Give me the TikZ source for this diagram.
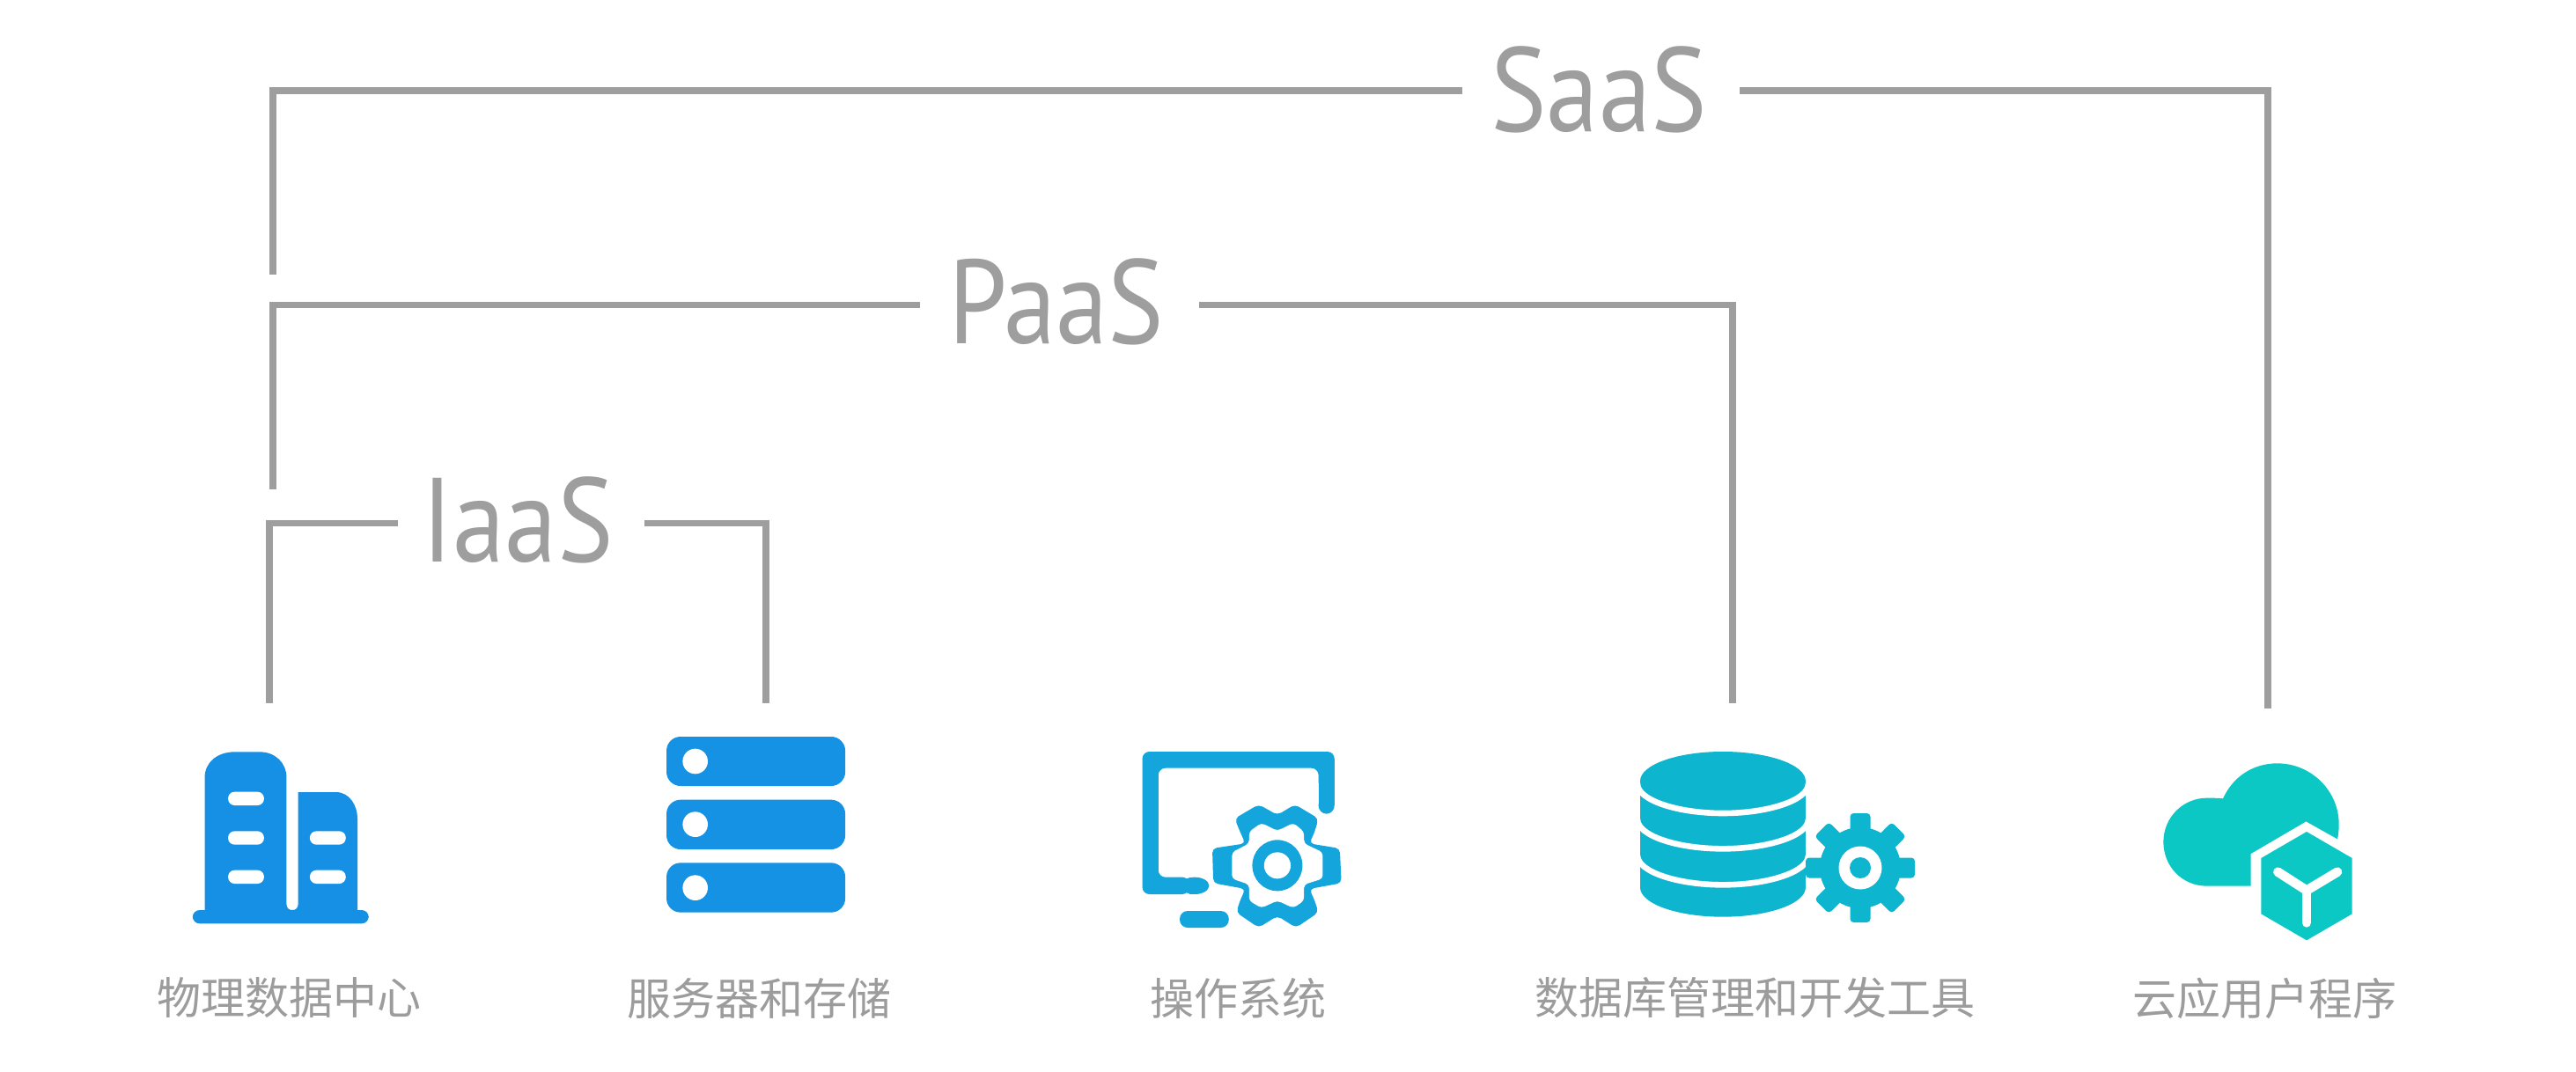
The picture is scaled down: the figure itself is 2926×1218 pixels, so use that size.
\documentclass[tikz,border=0pt]{standalone}
\usepackage{fontspec}
\newfontfamily\cjk{Noto Sans CJK SC}
\newfontfamily\lab[FakeStretch=0.88]{PT Sans}
\definecolor{linegray}{HTML}{9E9E9E}
\definecolor{textgray}{HTML}{9C9C9C}
\definecolor{bluea}{HTML}{1590E5}
\definecolor{blueb}{HTML}{1592E3}
\definecolor{bluec}{HTML}{14A5DC}
\definecolor{blued}{HTML}{0DB5CF}
\definecolor{bluee}{HTML}{0BC8C4}
\tikzset{
  bracket/.style={draw=linegray,line width=3.75pt,miter limit=10},
  bigtext/.style={inner sep=0pt,text=linegray,font=\lab\fontsize{68}{80}\selectfont},
  captext/.style={inner sep=0pt,text=textgray,font=\cjk\fontsize{25}{30}\selectfont},
  cropa/.style={shift={(180,820)},x=.2551pt,y=-.16667pt},
  cropb/.style={shift={(1260,830)},x=.30303pt,y=-.16667pt},
  cropc/.style={shift={(2400,780)},x=.16667pt,y=-.16667pt},
  pill/.style={fill=white,rounded corners=3.7pt},
}
\begin{document}
\begin{tikzpicture}[x=.5pt,y=-.5pt]
\useasboundingbox (0,0) rectangle (2926,1218);
\fill[white] (0,0) rectangle (2926,1218);
% labels
\node[bigtext,anchor=base] (saas) at (1816,150) {SaaS};
\node[bigtext,anchor=base] (paas) at (1200,391) {PaaS};
\node[bigtext,anchor=base] (iaas) at (588,639) {IaaS};
\node[captext] (l1) at (328,1134) {物理数据中心};
\node[captext] (l2) at (862,1134) {服务器和存储};
\node[captext] (l3) at (1406,1134) {操作系统};
\node[captext] (l4) at (1993,1134) {数据库管理和开发工具};
\node[captext] (l5) at (2572,1134) {云应用户程序};
% connector ends
\coordinate (saasA) at (1661,103);
\coordinate (saasB) at (310,312);
\coordinate (saasC) at (1976,103);
\coordinate (saasD) at (2576,805);
\coordinate (paasA) at (1045,346.5);
\coordinate (paasB) at (310,556);
\coordinate (paasC) at (1362,346.5);
\coordinate (paasD) at (1968,799);
\coordinate (iaasA) at (452,594.5);
\coordinate (iaasB) at (306,799);
\coordinate (iaasC) at (732,594.5);
\coordinate (iaasD) at (870,799);
\draw[bracket] (saasA) -| (saasB);
\draw[bracket] (saasC) -| (saasD);
\draw[bracket] (paasA) -| (paasB);
\draw[bracket] (paasC) -| (paasD);
\draw[bracket] (iaasA) -| (iaasB);
\draw[bracket] (iaasC) -| (iaasD);
% building
\begin{scope}[cropa]
\fill[bluea,rounded corners=4pt] (76,642) rectangle (468,688);
\fill[bluea] (103,660) -- (103,190) .. controls (103,140) and (130,103) .. (170,103)
  -- (225,103) .. controls (260,103) and (285,140) .. (285,190) -- (285,620)
  .. controls (285,635) and (290,642) .. (298,642) .. controls (306,642) and (311,635) .. (311,620)
  -- (311,240) -- (395,240) .. controls (425,240) and (443,285) .. (443,330) -- (443,660) -- cycle;
\fill[pill] (155,239) rectangle (235,285);
\fill[pill] (155,373) rectangle (235,419);
\fill[pill] (155,506) rectangle (235,552);
\fill[pill] (337,373) rectangle (417,419);
\fill[pill] (337,506) rectangle (417,552);
% server
\foreach \t/\b in {51/219,266/435,481/650}{
  \fill[blueb,rounded corners=8pt] (1131,\t) rectangle (1529,\b);
}
\fill[white] (1195,135) circle[x radius=28,y radius=43];
\fill[white] (1195,350) circle[x radius=28,y radius=43];
\fill[white] (1195,566) circle[x radius=28,y radius=43];
\end{scope}
% OS
\begin{scope}[cropb]
\fill[bluec,rounded corners=4pt] (62,558) -- (62,72) -- (422,72) -- (422,200) -- (392,200) -- (392,128) -- (92,128) -- (92,500) -- (150,500) -- (150,558) -- cycle;
\fill[bluec] (392,128) rectangle (422,255);
\fill[bluec] (407,255) circle[x radius=15,y radius=29];
\fill[bluec] (150,500) rectangle (160,558);
\fill[bluec] (160,529) circle[x radius=27,y radius=29];
\fill[bluec,rounded corners=4.5pt] (132,615) rectangle (224,672);
\fill[bluec,rounded corners=2.5pt] (315,288) -- (348,252) -- (392,300) -- (385,345) -- (375,385) -- (432,402) -- (435,520) -- (375,540) -- (385,580) -- (392,620) -- (350,672) -- (315,632) -- (280,672) -- (238,620) -- (245,580) -- (255,540) -- (195,520) -- (193,402) -- (255,385) -- (245,345) -- (235,300) -- (280,252) -- cycle;
\fill[white,rounded corners=2pt] (315,342) -- (345,315) -- (365,345) -- (365,385) -- (400,415) -- (400,505) -- (365,525) -- (365,580) -- (345,605) -- (315,580) -- (285,605) -- (262,580) -- (262,525) -- (230,505) -- (230,415) -- (262,385) -- (262,345) -- (285,315) -- cycle;
\fill[bluec] (315,460) circle[x radius=47,y radius=87];
\fill[white] (315,460) circle[x radius=25,y radius=45];
% database
\fill[blued] (995,172) .. controls (995,117) and (1064,72) .. (1150,72) .. controls (1236,72) and (1305,117) .. (1305,172)
  -- (1305,535) .. controls (1305,590) and (1236,635) .. (1150,635) .. controls (1064,635) and (995,590) .. (995,535) -- cycle;
\foreach \c in {182,303,426}{
  \draw[white,line width=3.3pt] (990,\c) .. controls (990,\c+55) and (1064,\c+100) .. (1150,\c+100) .. controls (1236,\c+100) and (1310,\c+55) .. (1310,\c);
}
\end{scope}
% small gear
\coordinate (gc) at (2113,986);
\fill[blued] (gc) circle[radius=46];
\foreach \a in {0,45,...,315}{
  \fill[blued,rotate around={\a:(gc)},rounded corners=2pt] (2113-11.5,986-62) rectangle (2113+11.5,986-30);
}
\fill[white] (gc) circle[radius=24.5];
\fill[blued] (gc) circle[radius=12];
% cloud
\begin{scope}[cropc]
\fill[bluee] (470,680) -- (320,680) .. controls (235,680) and (172,612) .. (172,530)
  .. controls (172,445) and (240,380) .. (320,380) .. controls (340,380) and (360,380) .. (375,382)
  .. controls (410,305) and (480,262) .. (560,262) .. controls (675,262) and (770,355) .. (770,470)
  .. controls (770,490) and (768,505) .. (765,520) -- (658,460) -- (470,570) -- cycle;
\fill[bluee] (660,495) -- (815,585) -- (815,775) -- (660,865) -- (505,775) -- (505,585) -- cycle;
\draw[white,line width=5.3pt,line cap=round,line join=miter] (562,632) -- (660,695) -- (765,632);
\draw[white,line width=5.3pt,line cap=round] (660,695) -- (660,805);
\end{scope}
\end{tikzpicture}
\end{document}
